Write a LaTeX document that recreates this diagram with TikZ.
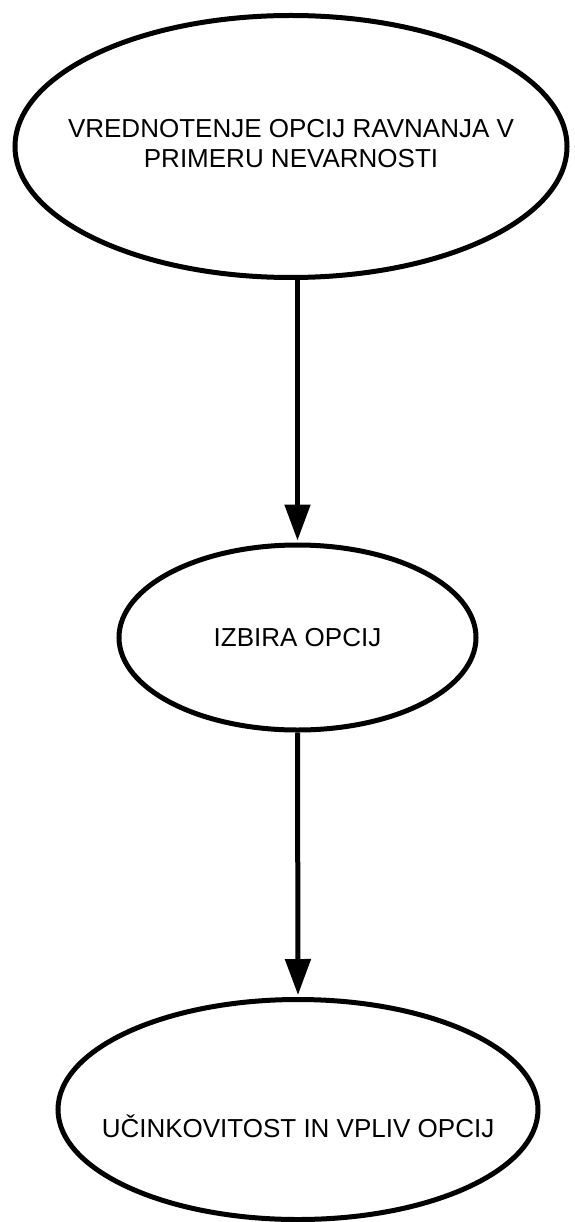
\documentclass[tikz,border=0pt]{standalone}
\usepackage{fontspec}
\setmainfont{Liberation Sans}
\usetikzlibrary{shapes.geometric,arrows.meta}
\tikzset{
  oval/.style={ellipse, draw=black, line width=5pt, inner sep=0pt, fill=white,
    font=\fontsize{26}{30}\selectfont},
  flow/.style={line width=5pt, -{Triangle[length=36pt,width=25pt]}, shorten >=2pt}
}
\begin{document}
\begin{tikzpicture}[x=1pt,y=-1pt]
\useasboundingbox[fill=white] (0,0) rectangle (574,1222);
\node[oval, minimum width=552pt, minimum height=262pt] (e1) at (291,146.5)
  {\makebox[0pt]{\begin{tabular}{@{}c@{}}VREDNOTENJE OPCIJ RAVNANJA V\\PRIMERU NEVARNOSTI\end{tabular}}};
\node[oval, minimum width=357pt, minimum height=185pt] (e2) at (297.5,637.5)
  {\makebox[0pt]{IZBIRA OPCIJ}};
\node[oval, minimum width=480pt, minimum height=220pt] (e3) at (298,1109.5)
  {\makebox[0pt]{\raisebox{-28pt}[0pt][0pt]{UČINKOVITOST IN VPLIV OPCIJ}}};
\draw[flow] (e2.north |- e1.south) -- (e2.north);
\draw[flow] (e2.south) -- (e3.north);
\end{tikzpicture}
\end{document}
